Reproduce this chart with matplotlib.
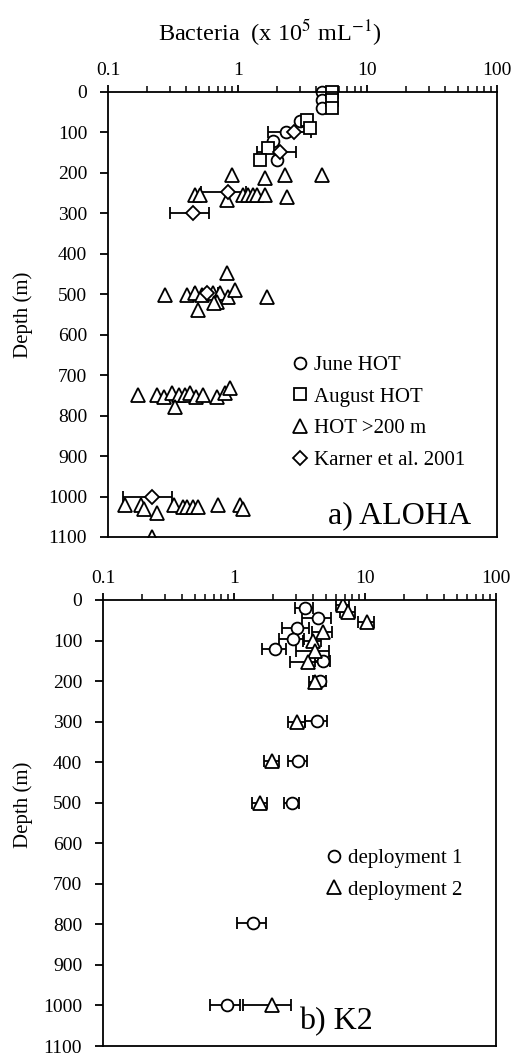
import matplotlib
matplotlib.use("Agg")
import matplotlib.pyplot as plt
import numpy as np

plt.rcParams['font.family'] = ['Liberation Serif', 'DejaVu Serif']
plt.rcParams['mathtext.fontset'] = 'stix'

# ---------------- a) ALOHA ----------------
june_x = [4.5, 4.5, 4.5, 3.0, 2.35, 1.88, 2.0]
june_d = [0, 20, 40, 72, 99, 121, 168]

aug_x = [5.3, 5.3, 5.3, 3.4, 3.6, 1.71, 1.49]
aug_d = [0, 20, 40, 69, 89, 138, 168]

hot_x = [0.90, 1.62, 2.32, 4.5, 2.4, 0.47, 0.51, 0.83, 1.10, 1.20, 1.31, 1.42, 1.62,
         0.83, 0.275, 0.41, 0.47, 0.53, 0.64, 0.73, 0.84, 0.95, 1.68, 0.49, 0.69, 0.66,
         0.17, 0.24, 0.27, 0.31, 0.35, 0.39, 0.43, 0.48, 0.54, 0.69, 0.80, 0.87, 0.33,
         0.135, 0.18, 0.19, 0.24, 0.32, 0.38, 0.41, 0.45, 0.49, 0.70, 1.04, 1.10, 0.22]
hot_d = [205, 212, 205, 205, 259, 254, 254, 266, 254, 254, 254, 254, 254,
         447, 501, 501, 496, 501, 496, 496, 506, 489, 506, 538, 518, 521,
         748, 748, 755, 745, 750, 750, 745, 755, 750, 755, 745, 731, 778,
         1020, 1020, 1032, 1040, 1020, 1027, 1025, 1025, 1027, 1020, 1020, 1032, 1100]

karner_x = [2.7, 2.12, 0.84, 0.45, 0.58, 0.22]
karner_d = [99, 148, 246, 300, 496, 1000]
karner_err = [1.0, 0.7, 0.32, 0.15, 0.12, 0.09]

# ---------------- b) K2 ----------------
dep1_x = [3.48, 4.38, 3.04, 2.8, 2.06, 4.77, 4.5, 4.3, 3.08, 2.76, 1.40, 0.885]
dep1_d = [20, 44, 68, 95, 120, 151, 200, 298, 398, 500, 797, 1000]
dep1_err = [0.55, 1.1, 0.7, 0.6, 0.42, 0.6, 0.5, 0.8, 0.5, 0.35, 0.35, 0.23]

dep2_x = [6.8, 7.4, 10.3, 4.77, 3.98, 4.15, 3.66, 4.15, 3.04, 1.95, 1.58, 1.95]
dep2_d = [12, 29, 54, 78, 102, 127, 154, 202, 300, 398, 500, 1000]
dep2_err = [0.8, 1.0, 1.5, 0.8, 0.6, 1.2, 1.0, 0.4, 0.45, 0.26, 0.2, 0.77]

depth_ticks = np.arange(0, 1101, 100)
x_ticks = [0.1, 1, 10, 100]
x_ticklabels = ['0.1', '1', '10', '100']

fig = plt.figure(figsize=(5.16, 10.55), dpi=100)
ax1 = fig.add_axes([0.2093, 0.491, 0.754, 0.4218])
ax2 = fig.add_axes([0.1996, 0.0085, 0.7616, 0.4228])

mk = dict(mfc='white', mec='black', mew=1.3, color='black', linestyle='none')
eb = dict(ecolor='black', elinewidth=1.3, capsize=4.3, capthick=1.3, linestyle='none')


def style_axis(ax, label_x, label_y=0.5):
    ax.set_xscale('log')
    ax.set_xlim(0.1, 100)
    ax.set_ylim(1100, 0)
    ax.set_yticks(depth_ticks)
    ax.set_xticks(x_ticks)
    ax.set_xticklabels(x_ticklabels)
    ax.xaxis.tick_top()
    ax.tick_params(axis='x', which='major', direction='out', length=5, width=1.3,
                   labelsize=14, pad=4)
    ax.tick_params(axis='y', which='major', direction='out', length=6, width=1.3,
                   labelsize=14, pad=9, right=False)
    ax.tick_params(axis='x', which='minor', direction='out', length=4, width=1.1, top=True, bottom=False)
    ax.set_ylabel('Depth (m)', fontsize=15)
    ax.yaxis.set_label_coords(label_x, label_y)
    for s in ax.spines.values():
        s.set_linewidth(1.3)


leg_kw = dict(loc='upper left', frameon=False, fontsize=15, handlelength=1.0,
              handletextpad=0.15, labelspacing=0.58, borderpad=0, borderaxespad=0)

style_axis(ax1, -0.193)
ax1.errorbar(karner_x, karner_d, xerr=karner_err, fmt='none', **eb)
ax1.plot(hot_x, hot_d, marker='^', ms=10, label='HOT >200 m', clip_on=True, **mk)
ax1.plot(june_x, june_d, marker='o', ms=8.5, label='June HOT', clip_on=False, **mk)
ax1.plot(aug_x, aug_d, marker='s', ms=9, label='August HOT', clip_on=False, **mk)
ax1.plot(karner_x, karner_d, marker='D', ms=7, label='Karner et al. 2001', **mk)
h, l = ax1.get_legend_handles_labels()
order = [l.index('June HOT'), l.index('August HOT'), l.index('HOT >200 m'), l.index('Karner et al. 2001')]
ax1.legend([h[i] for i in order], [l[i] for i in order],
           bbox_to_anchor=(0.468, 0.408), **leg_kw)
ax1.text(0.565, 0.047, 'a) ALOHA', transform=ax1.transAxes, fontsize=23, ha='left', va='center')
ax1.text(0.416, 1.133, 'Bacteria  (x 10$^{5}$ mL$^{-1}$)', transform=ax1.transAxes,
         fontsize=17.5, ha='center', va='center')

style_axis(ax2, -0.178, 0.54)
ax2.errorbar(dep1_x, dep1_d, xerr=dep1_err, fmt='none', **eb)
ax2.errorbar(dep2_x, dep2_d, xerr=dep2_err, fmt='none', **eb)
ax2.plot(dep1_x, dep1_d, marker='o', ms=8.5, label='deployment 1', **mk)
ax2.plot(dep2_x, dep2_d, marker='^', ms=10, label='deployment 2', **mk)
ax2.legend(bbox_to_anchor=(0.562, 0.443), **leg_kw)
ax2.text(0.5, 0.055, 'b) K2', transform=ax2.transAxes, fontsize=23, ha='left', va='center')

fig.savefig('out.png', dpi=100)
